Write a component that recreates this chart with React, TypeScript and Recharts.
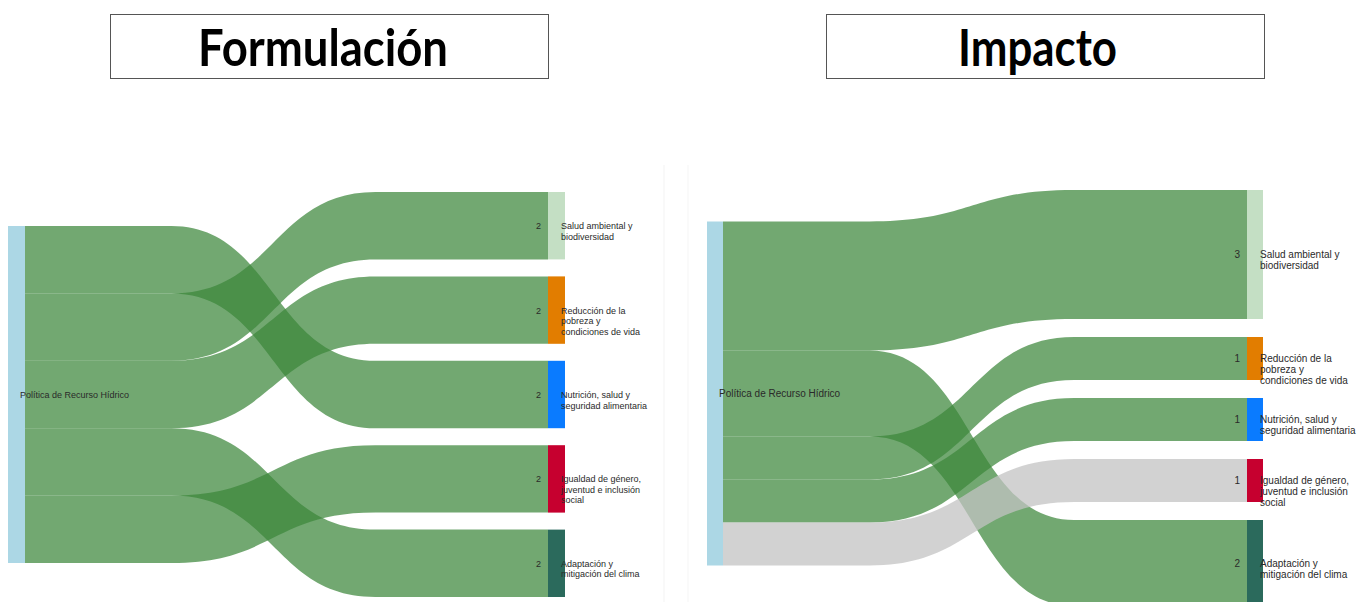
import { Sankey } from 'recharts'

// nodes
const SOURCE = 'Política de Recurso Hídrico'
const TARGETS = [
  'Salud ambiental y biodiversidad',
  'Reducción de la pobreza y condiciones de vida',
  'Nutrición, salud y seguridad alimentaria',
  'Igualdad de género, juventud e inclusión social',
  'Adaptación y mitigación del clima',
]
// how each target label wraps in the picture
const TARGET_LINES = [
  ['Salud ambiental y', 'biodiversidad'],
  ['Reducción de la', 'pobreza y', 'condiciones de vida'],
  ['Nutrición, salud y', 'seguridad alimentaria'],
  ['Igualdad de género,', 'juventud e inclusión', 'social'],
  ['Adaptación y', 'mitigación del clima'],
]

// links, listed in the order they leave the source node (top to bottom)
const formulacionTargets = [2, 0, 1, 4, 3]
const formulacionValues = [2, 2, 2, 2, 2]

const impactoTargets = [0, 4, 1, 2, 3]
const impactoValues = [3, 2, 1, 1, 1]

// styles
const NODE_COLORS = ['#acd7e5', '#c4dfc4', '#e27d00', '#0a7bff', '#c6002f', '#2b6a5c']
const LINK_GREEN = 'rgb(60,135,58)'
const LINK_GRAY = 'rgb(195,195,195)'
const impactoGrayTargets = [3]

const buildData = (targets: number[], values: number[]) => ({
  nodes: [{ name: SOURCE }, ...TARGETS.map(name => ({ name }))],
  links: targets.map((t, i) => ({ source: 0, target: t + 1, value: values[i] })),
})

function makeNode(fontSize: number, lineHeight: number) {
  return (props: any) => {
    const { x, y, width, height, index, payload } = props
    const cy = y + height / 2
    const isSource = index === 0
    return (
      <g>
        <rect x={x} y={y} width={width} height={height} fill={NODE_COLORS[index]} />
        {isSource ? (
          <text x={x + 12} y={cy + 3.5} fontSize={fontSize} fill="#2a2a2a" fontFamily="Liberation Sans, Arial, sans-serif">
            {payload.name}
          </text>
        ) : (
          <>
            <text x={x - 7} y={cy + 3.5} textAnchor="end" fontSize={fontSize} fill="#2a2a2a" fontFamily="Liberation Sans, Arial, sans-serif">
              {payload.value}
            </text>
            <text x={x + 13} y={cy + 3.5} fontSize={fontSize} fill="#2a2a2a" fontFamily="Liberation Sans, Arial, sans-serif">
              {TARGET_LINES[index - 1].map((line, i) => (
                <tspan key={i} x={x + 13} dy={i === 0 ? 0 : lineHeight}>{line}</tspan>
              ))}
            </text>
          </>
        )}
      </g>
    )
  }
}

// draws each link as a filled band, stacking it on the source in data order
function makeLink(values: number[], targets: number[], top: number, grayTargets: number[]) {
  return (props: any) => {
    const { sourceX, targetX, sourceY, targetY, linkWidth, index, payload } = props
    const ky = linkWidth / values[index]
    const before = values.slice(0, index).reduce((a, b) => a + b, 0)
    const src = payload && typeof payload.source === 'object' ? payload.source : null
    const srcTop = src ? src.y + top : sourceY - linkWidth / 2 - (props.sourceRelativeY ?? 0)
    const s0 = srcTop + before * ky
    const s1 = s0 + linkWidth
    const t0 = targetY - linkWidth / 2
    const t1 = t0 + linkWidth
    const w = targetX - sourceX
    const c0 = sourceX + w * 0.28
    const c1 = sourceX + w * 0.67
    const m = (c0 + c1) / 2
    const d = `M${sourceX},${s0} L${c0},${s0} C${m},${s0} ${m},${t0} ${c1},${t0} L${targetX},${t0} ` +
      `L${targetX},${t1} L${c1},${t1} C${m},${t1} ${m},${s1} ${c0},${s1} L${sourceX},${s1} Z`
    const gray = grayTargets.includes(targets[index])
    return <path d={d} fill={gray ? LINK_GRAY : LINK_GREEN} fillOpacity={gray ? 0.75 : 0.72} stroke="none" />
  }
}

const formulacionData = buildData(formulacionTargets, formulacionValues)
const impactoData = buildData(impactoTargets, impactoValues)

export default function App() {
  return (
    <div style={{ position: 'absolute', left: 0, top: 0, width: 1361, height: 602, overflow: 'hidden', background: '#fff' }}>
      <svg width={1361} height={602} style={{ position: 'absolute', left: 0, top: 0 }}>
        <line x1={664} y1={165} x2={664} y2={602} stroke="#f3f3f3" />
        <line x1={688} y1={165} x2={688} y2={602} stroke="#f5f5f5" />
        <rect x={110.5} y={14.5} width={438} height={64} fill="#fff" stroke="#555" strokeWidth={1} />
        <rect x={826.5} y={14.5} width={438} height={64} fill="#fff" stroke="#555" strokeWidth={1} />
        <text x={198} y={66} fontSize={51} fontWeight={700} fontFamily="Lato, Carlito, sans-serif" textLength={250} lengthAdjust="spacingAndGlyphs" fill="#000">
          Formulación
        </text>
        <text x={958} y={66} fontSize={51} fontWeight={700} fontFamily="Lato, Carlito, sans-serif" textLength={159} lengthAdjust="spacingAndGlyphs" fill="#000">
          Impacto
        </text>
      </svg>
      <div style={{ position: 'absolute', left: 0, top: 0 }}>
        <Sankey
          width={680}
          height={602}
          data={formulacionData}
          margin={{ top: 192, left: 8, right: 115, bottom: 5 }}
          nodeWidth={17}
          nodePadding={17}
          sort={false}
          node={makeNode(9, 10.5)}
          link={makeLink(formulacionValues, formulacionTargets, 192, [])}
        />
      </div>
      <div style={{ position: 'absolute', left: 680, top: 0 }}>
        <Sankey
          width={681}
          height={620}
          data={impactoData}
          margin={{ top: 190, left: 27, right: 98, bottom: 14 }}
          nodeWidth={16}
          nodePadding={18}
          sort={false}
          node={makeNode(10, 11)}
          link={makeLink(impactoValues, impactoTargets, 190, impactoGrayTargets)}
        />
      </div>
    </div>
  )
}
